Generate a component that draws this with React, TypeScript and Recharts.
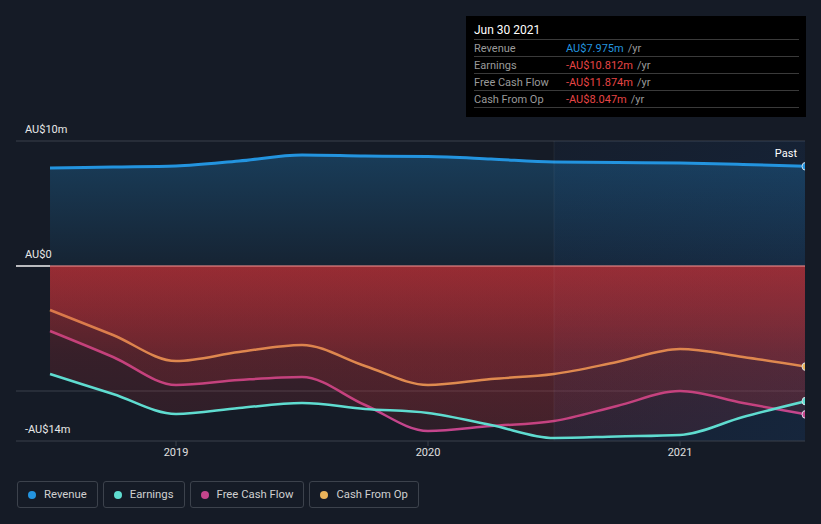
import React from 'react';
import {
  ComposedChart, Area, XAxis, YAxis, CartesianGrid, ReferenceLine, ReferenceArea,
} from 'recharts';

const periods = [2018.5, 2018.75, 2019, 2019.25, 2019.5, 2019.75, 2020, 2020.25, 2020.5, 2020.75, 2021, 2021.25, 2021.5];
const revenue = [7.84, 7.92, 8.0, 8.4, 8.88, 8.8, 8.76, 8.56, 8.32, 8.28, 8.24, 8.12, 7.975];
const earnings = [-8.64, -10.24, -11.84, -11.36, -10.96, -11.44, -11.76, -12.72, -13.76, -13.64, -13.52, -12.08, -10.812];
const freeCashFlow = [-5.2, -7.28, -9.52, -9.12, -8.88, -11.12, -13.2, -12.8, -12.4, -11.2, -10.0, -10.96, -11.874];
const cashFromOp = [-3.52, -5.52, -7.6, -6.88, -6.32, -8.0, -9.52, -9.04, -8.64, -7.68, -6.64, -7.28, -8.047];

const xTicks = [2019, 2020, 2021];
const yTicks = [10, 0, -14];
const yTickLabels = ['AU$10m', 'AU$0', '-AU$14m'];

const tooltipTitle = 'Jun 30 2021';
const tooltipRows = [
  { label: 'Revenue', value: 'AU$7.975m', color: '#2394df' },
  { label: 'Earnings', value: '-AU$10.812m', color: '#e64545' },
  { label: 'Free Cash Flow', value: '-AU$11.874m', color: '#e64545' },
  { label: 'Cash From Op', value: '-AU$8.047m', color: '#e64545' },
];

const series = [
  { key: 'revenue', name: 'Revenue', color: '#2394df' },
  { key: 'earnings', name: 'Earnings', color: '#5fdcd0' },
  { key: 'fcf', name: 'Free Cash Flow', color: '#c4458c' },
  { key: 'cfo', name: 'Cash From Op', color: '#eab35a' },
];

const data = periods.map((p, i) => ({
  t: p,
  revenue: revenue[i],
  earnings: earnings[i],
  fcf: freeCashFlow[i],
  cfo: cashFromOp[i],
}));

const FONT = 'Roboto, "Noto Sans", sans-serif';
const BG = '#151b26';
const X_MIN = 2018.365;
const X_MAX = 2021.496;

const lastIdx = periods.length - 1;
const endDot = (color: string) => (props: any) => {
  if (props.index !== lastIdx) return <g key={props.index} />;
  return <circle key={props.index} cx={props.cx} cy={props.cy} r={4} fill={color} stroke="#d5dde6" strokeWidth={1} />;
};

const yLabel = (text: string) => (props: any) => {
  const vb = props.viewBox || {};
  return (
    <text x={25} y={(vb.y ?? 0) - 8} fill="#e8e8e8" fontSize={11} fontFamily={FONT}>
      {text}
    </text>
  );
};

export default function App() {
  return (
    <div style={{ position: 'fixed', left: 0, top: 0, width: 821, height: 524, background: BG, fontFamily: FONT, overflow: 'hidden' }}>
      <ComposedChart width={821} height={524} data={data} margin={{ top: 141, right: 16, left: 16, bottom: 53 }}>
        <defs>
          <linearGradient id="revFill" x1="0" y1="141" x2="0" y2="266" gradientUnits="userSpaceOnUse">
            <stop offset="0" stopColor="#2394df" stopOpacity={0.3} />
            <stop offset="1" stopColor="#2394df" stopOpacity={0.07} />
          </linearGradient>
          <linearGradient id="negFill" x1="0" y1="266" x2="0" y2="441" gradientUnits="userSpaceOnUse">
            <stop offset="0" stopColor="#c83238" stopOpacity={0.35} />
            <stop offset="0.5" stopColor="#c83238" stopOpacity={0.19} />
            <stop offset="1" stopColor="#c83238" stopOpacity={0.13} />
          </linearGradient>
          <linearGradient id="pastFill" x1="0" y1="0" x2="1" y2="1">
            <stop offset="0" stopColor="#1a4a90" stopOpacity={0.14} />
            <stop offset="1" stopColor="#1a5aa8" stopOpacity={0.34} />
          </linearGradient>
        </defs>
        <CartesianGrid horizontal vertical={false} horizontalValues={[10, -10]} stroke="#3a404b" strokeDasharray="" />
        <XAxis
          dataKey="t"
          type="number"
          domain={[X_MIN, X_MAX]}
          ticks={xTicks}
          allowDataOverflow
          tickFormatter={(v: number) => String(v)}
          stroke="#3a404b"
          tickLine={{ stroke: '#3a404b' }}
          tickSize={5}
          tick={{ fill: '#e0e0e0', fontSize: 11, fontFamily: FONT }}
          height={30}
        />
        <YAxis
          type="number"
          domain={[-14, 10]}
          ticks={yTicks}
          width={0}
          hide
          allowDataOverflow
        />
        <ReferenceArea x1={2020.5} x2={X_MAX} y1={-14} y2={10} fill="url(#pastFill)" stroke="none"
          label={{ value: 'Past', position: 'insideTopRight', fill: '#ffffff', fontSize: 11, fontFamily: FONT, offset: 8 }} />
        <ReferenceLine x={2020.5} stroke="#ffffff" strokeOpacity={0.06} />
        <Area type="monotone" dataKey="revenue" baseValue={0} stroke="#2394df" strokeWidth={3} fill="url(#revFill)" fillOpacity={1} isAnimationActive={false} dot={endDot('#2394df')} activeDot={false} />
        <Area type="monotone" dataKey="cfo" baseValue={0} stroke="#eab35a" strokeWidth={2.5} fill="url(#negFill)" fillOpacity={1} isAnimationActive={false} dot={endDot('#eab35a')} activeDot={false} />
        <Area type="monotone" dataKey="fcf" baseValue={0} stroke="#c4458c" strokeWidth={2.5} fill="url(#negFill)" fillOpacity={1} isAnimationActive={false} dot={endDot('#c4458c')} activeDot={false} />
        <Area type="monotone" dataKey="earnings" baseValue={0} stroke="#5fdcd0" strokeWidth={2.5} fill="url(#negFill)" fillOpacity={1} isAnimationActive={false} dot={endDot('#5fdcd0')} activeDot={false} />
        <ReferenceLine y={yTicks[0]} stroke="none" label={yLabel(yTickLabels[0])} />
        <ReferenceLine segment={[{ x: X_MIN, y: 0 }, { x: periods[0], y: 0 }]} stroke="#f2f2f2" strokeWidth={1.5} label={yLabel(yTickLabels[1])} />
        <ReferenceLine segment={[{ x: periods[0], y: 0 }, { x: X_MAX, y: 0 }]} stroke="#e88a8a" strokeOpacity={0.75} strokeWidth={1.5} />
        <ReferenceLine y={yTicks[2]} stroke="none" label={yLabel(yTickLabels[2])} />
      </ComposedChart>

      <div style={{ position: 'absolute', left: 466, top: 16, width: 340, height: 101, background: '#000000', boxSizing: 'border-box', padding: '0 7px 0 8px' }}>
        <div style={{ color: '#ffffff', fontSize: 12, height: 24, paddingTop: 6, lineHeight: '16px', borderBottom: '1px solid #3a3a3a', boxSizing: 'border-box' }}>{tooltipTitle}</div>
        {tooltipRows.map((r) => (
          <div key={r.label} style={{ display: 'flex', fontSize: 11, height: 17, lineHeight: '17px', borderBottom: '1px solid #3a3a3a', boxSizing: 'border-box' }}>
            <span style={{ width: 92, color: '#9a9a9a' }}>{r.label}</span>
            <span style={{ color: r.color }}>{r.value}</span>
            <span style={{ color: '#9a9a9a', marginLeft: 4 }}>/yr</span>
          </div>
        ))}
      </div>

      <div style={{ position: 'absolute', left: 17, top: 481, display: 'flex', gap: 5 }}>
        {series.map((s) => (
          <div key={s.key} style={{ height: 27, boxSizing: 'border-box', border: '1px solid #3c424c', borderRadius: 3, display: 'flex', alignItems: 'center', padding: '0 10px 0 10px', color: '#d0d0d0', fontSize: 11.3 }}>
            <span style={{ width: 8, height: 8, borderRadius: '50%', background: s.color, marginRight: 8 }} />
            {s.name}
          </div>
        ))}
      </div>
    </div>
  );
}
